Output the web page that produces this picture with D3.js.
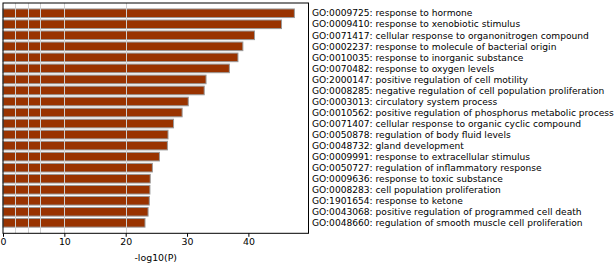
<!DOCTYPE html>
<html>
<head>
<meta charset="utf-8">
<script src="https://cdn.jsdelivr.net/npm/d3@7"></script>
<style>
  html, body { margin: 0; padding: 0; background: #fff; }
  svg { display: block; }
  text { font-family: "DejaVu Sans", sans-serif; fill: #000; }
</style>
</head>
<body>
<svg id="chart" width="614" height="263"></svg>
<script>
const terms = [
  "GO:0009725: response to hormone",
  "GO:0009410: response to xenobiotic stimulus",
  "GO:0071417: cellular response to organonitrogen compound",
  "GO:0002237: response to molecule of bacterial origin",
  "GO:0010035: response to inorganic substance",
  "GO:0070482: response to oxygen levels",
  "GO:2000147: positive regulation of cell motility",
  "GO:0008285: negative regulation of cell population proliferation",
  "GO:0003013: circulatory system process",
  "GO:0010562: positive regulation of phosphorus metabolic process",
  "GO:0071407: cellular response to organic cyclic compound",
  "GO:0050878: regulation of body fluid levels",
  "GO:0048732: gland development",
  "GO:0009991: response to extracellular stimulus",
  "GO:0050727: regulation of inflammatory response",
  "GO:0009636: response to toxic substance",
  "GO:0008283: cell population proliferation",
  "GO:1901654: response to ketone",
  "GO:0043068: positive regulation of programmed cell death",
  "GO:0048660: regulation of smooth muscle cell proliferation"
];
const logP = [47.5, 45.4, 41.0, 39.1, 38.3, 36.9, 33.1, 32.8, 30.2, 29.2,
              27.8, 26.9, 26.8, 25.5, 24.35, 24.0, 23.95, 23.85, 23.65, 23.15];
const xTicks = [0, 10, 20, 30, 40];
const gridLines = [2, 4, 6, 10, 20];
const xLabel = "-log10(P)";

const svg = d3.select("#chart");
const pLeft = 3, pRight = 308.5, pTop = 3, pBottom = 233.3;

const x = d3.scaleLinear().domain([0, 49.8]).range([pLeft, pRight]);
const y = d3.scaleLinear().domain([-0.93, 19.95]).range([pTop, pBottom]);
const barH = 0.78;

// bars
svg.append("g").selectAll("rect").data(logP).join("rect")
  .attr("x", x(0))
  .attr("y", (d, i) => y(i - barH / 2))
  .attr("width", d => x(d) - x(0))
  .attr("height", y(barH) - y(0))
  .attr("fill", "#993300")
  .attr("stroke", "#9a9a9a")
  .attr("stroke-width", 1);

// grid lines over bars
svg.append("g").selectAll("line").data(gridLines).join("line")
  .attr("x1", d => Math.round(x(d)) + 0.5).attr("x2", d => Math.round(x(d)) + 0.5)
  .attr("y1", pTop).attr("y2", pBottom)
  .attr("stroke", "#cfcfcf").attr("stroke-width", 1);

// frame
svg.append("rect")
  .attr("x", pLeft).attr("y", pTop)
  .attr("width", pRight - pLeft).attr("height", pBottom - pTop)
  .attr("fill", "none").attr("stroke", "#000").attr("stroke-width", 1);

// x axis
const xAxis = d3.axisBottom(x).tickValues(xTicks).tickSize(3.5).tickPadding(2).tickFormat(d3.format("d"));
const gx = svg.append("g").attr("transform", `translate(0,${pBottom})`).call(xAxis);
gx.select(".domain").remove();
gx.selectAll("text").style("font-family", "DejaVu Sans, sans-serif").style("font-size", "9.4px").attr("fill", "#000");
gx.selectAll("line").attr("stroke", "#000");

svg.append("text")
  .attr("x", (pLeft + pRight) / 2).attr("y", 260.5)
  .attr("text-anchor", "middle")
  .style("font-size", "9.4px")
  .text(xLabel);

// term labels on the right
svg.append("g").selectAll("text").data(terms).join("text")
  .attr("x", 312)
  .attr("y", (d, i) => y(i))
  .attr("dy", "0.35em")
  .style("font-size", "9.1px")
  .text(d => d);
</script>
</body>
</html>
